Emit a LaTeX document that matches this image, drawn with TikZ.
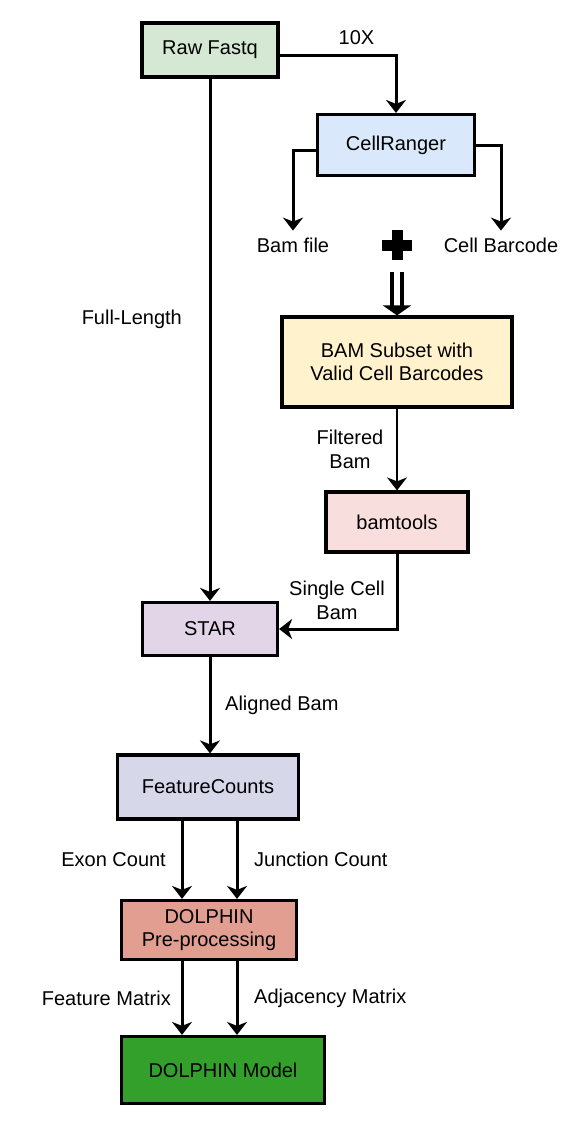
\documentclass[tikz,border=0pt]{standalone}
\usepackage{fontspec}
\setmainfont{Liberation Sans}
\usetikzlibrary{arrows.meta, positioning}

\definecolor{rawfill}{HTML}{D5E8D4}
\definecolor{cellfill}{HTML}{DAE8FC}
\definecolor{subsetfill}{HTML}{FFF2CC}
\definecolor{bamtoolsfill}{HTML}{F8DEDD}
\definecolor{starfill}{HTML}{E1D5E7}
\definecolor{countsfill}{HTML}{D6D8EA}
\definecolor{prepfill}{HTML}{E29E90}
\definecolor{modelfill}{HTML}{33A02C}

\begin{document}
\begin{tikzpicture} [x=0.5pt, y=-0.5pt, font=\fontsize{10}{11.8}\selectfont,
    stage/.style = {draw, line width=1.6pt, align=center, inner sep=0pt},
    flow/.style = {-{Stealth[length=6.5pt, width=10pt, inset=2pt]}, line width=1.5pt}]
    \useasboundingbox (0,0) rectangle (566,1132);

    \node (raw) [stage, fill=rawfill, minimum width=68pt, minimum height=27pt] at (210,50) {Raw Fastq};
    \node (cell) [stage, fill=cellfill, minimum width=78.5pt, minimum height=30.5pt] at (396,145) {CellRanger};
    \node (bamfile) at (293,245) {Bam file};
    \node (plus) [minimum size=15pt] at (397,245) {};
    \node (barcode) at (501,245) {Cell Barcode};
    \node (subset) [stage, fill=subsetfill, minimum width=115pt, minimum height=45pt] at (397,362) {BAM Subset with\\Valid Cell Barcodes};
    \node (bamtools) [stage, fill=bamtoolsfill, minimum width=71pt, minimum height=30pt] at (397,522) {bamtools};
    \node (star) [stage, fill=starfill, minimum width=67.5pt, minimum height=26.5pt] at (210,629) {STAR};
    \node (counts) [stage, fill=countsfill, minimum width=90.5pt, minimum height=32pt] at (208,787) {FeatureCounts};
    \node (prep) [stage, fill=prepfill, minimum width=87.5pt, minimum height=29.5pt] at (209,930) {DOLPHIN\\Pre-processing};
    \node (model) [stage, fill=modelfill, minimum width=101.5pt, minimum height=33.5pt] at (223,1070) {DOLPHIN Model};

    % plus sign
    \fill (plus.center) ++(-15,-5.5) rectangle ++(30,11);
    \fill (plus.center) ++(-5.5,-15) rectangle ++(11,30);

    \draw [flow] ([yshift=-2.5pt]raw.east) -| (cell.north) node [pos=0.33, above=1pt] {10X};
    \draw [flow] (raw.south) -- (star.north) node [pos=0.46, left=10pt] {Full-Length};
    \draw [flow] ([yshift=-2.5pt]cell.west) -| (bamfile.north);
    \draw [flow] (cell.east) -| (barcode.north);
    \draw [double, double distance=3pt, line width=1.8pt, -{Triangle[length=5pt, width=14pt]}, shorten <=6pt] (plus.south) -- (subset.north);
    \draw [flow, line width=1pt] (subset.south) -- (bamtools.north) node [midway, left=3pt, align=center] {Filtered\\Bam};
    \draw [flow] (bamtools.south) |- (star.east) node [pos=0.31, left=2pt, align=center] {Single Cell\\Bam};
    \draw [flow] (star.south) -- (star.south |- counts.north) node [midway, right=3.5pt] {Aligned Bam};
    \draw [flow] ([xshift=-13pt]counts.south) -- ([xshift=-13.5pt]prep.north) node [midway, left=4pt] {Exon Count};
    \draw [flow] ([xshift=14.5pt]counts.south) -- ([xshift=14pt]prep.north) node [midway, right=4.5pt] {Junction Count};
    \draw [flow] ([xshift=-13.5pt]prep.south) -- ([xshift=-20.5pt]model.north) node [midway, left=1.5pt] {Feature Matrix};
    \draw [flow] ([xshift=14pt]prep.south) -- ([xshift=7pt]model.north) node [midway, right=4.5pt] {Adjacency Matrix};
\end{tikzpicture}
\end{document}
